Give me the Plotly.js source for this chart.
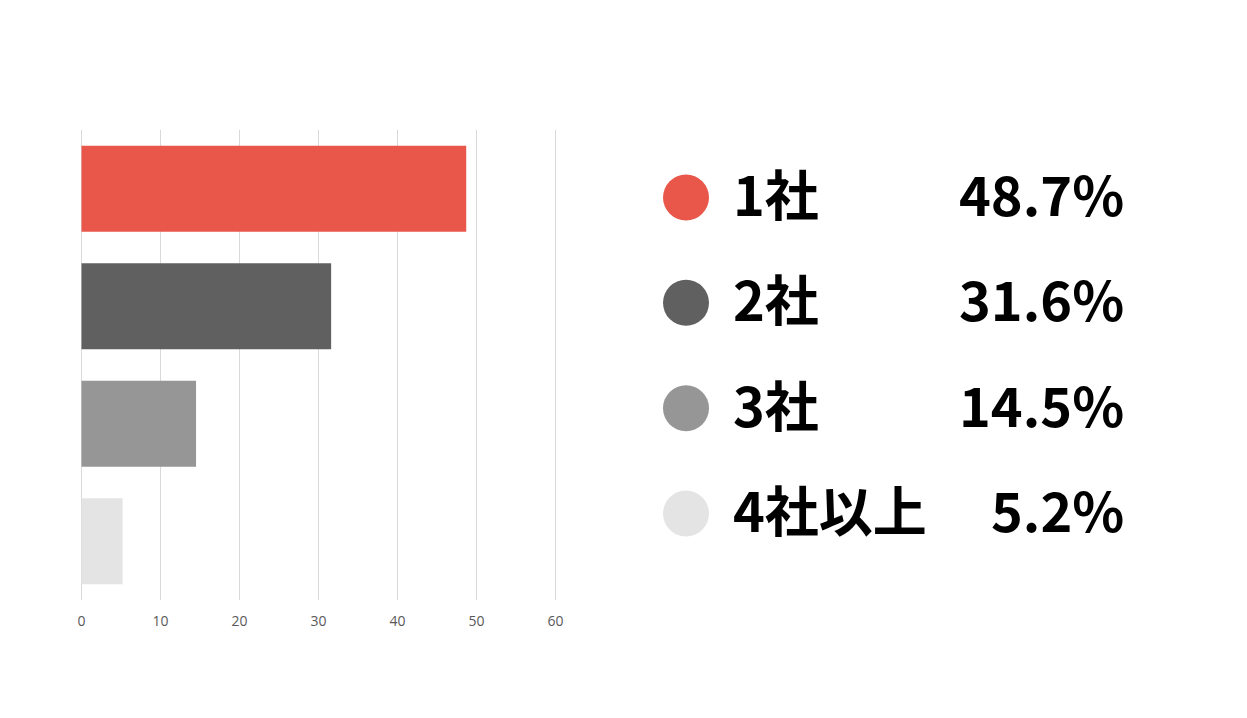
<!DOCTYPE html>
<html>
<head>
<meta charset="utf-8">
<script src="https://cdn.plot.ly/plotly-3.0.1.min.js"></script>
<style>
  html, body { margin: 0; padding: 0; background: #fff; }
  #chart { width: 1247px; height: 718px; }
</style>
</head>
<body>
<div id="chart"></div>
<script>
// 取引社数の分布 — bar chart on the left, big legend list on the right.

const categories = ["1社", "2社", "3社", "4社以上"];
const shares = [48.7, 31.6, 14.5, 5.2];
const shareLabels = ["48.7%", "31.6%", "14.5%", "5.2%"];
const xTicks = [0, 10, 20, 30, 40, 50, 60];

const barColors = ["#e8574a", "#606060", "#969696", "#e4e4e4"];

const W = 1247, H = 718;
const px = (a, b) => [a / W, b / W];
const py = (top, bottom) => [(H - bottom) / H, (H - top) / H];

// pad the x range a little so the 0 and 60 gridlines are not dropped at the edges
const PAD = 0.4, UNIT = (555.5 - 81.5) / 60;

const LEGEND_FONT = { family: "Noto Sans CJK JP", size: 54, color: "#000" };
const TEXT_SHIFT = 5;

const bars = {
    type: "bar",
    orientation: "h",
    x: shares,
    y: categories,
    width: 0.73,
    marker: { color: barColors, line: { width: 0 } },
    hoverinfo: "x+y",
    xaxis: "x",
    yaxis: "y",
};

// legend dots
const dots = {
    type: "scatter",
    mode: "markers",
    x: categories.map(() => 686),
    y: categories,
    marker: { size: 46, color: barColors, line: { width: 0 } },
    cliponaxis: false,
    xaxis: "x2",
    yaxis: "y2",
    hoverinfo: "skip",
};

const nameNotes = categories.map(c => ({
    xref: "x2", yref: "y2", x: 731, y: c,
    text: "<b>" + c + "</b>", showarrow: false,
    xanchor: "left", yanchor: "middle", yshift: TEXT_SHIFT,
    font: LEGEND_FONT,
}));

const pctNotes = categories.map((c, i) => ({
    xref: "x2", yref: "y2", x: 1126, y: c,
    text: "<b>" + shareLabels[i] + "</b>", showarrow: false,
    xanchor: "right", yanchor: "middle", yshift: TEXT_SHIFT,
    font: LEGEND_FONT,
}));

const layout = {
    width: W,
    height: H,
    margin: { t: 0, b: 0, l: 0, r: 0 },
    paper_bgcolor: "#fff",
    plot_bgcolor: "rgba(0,0,0,0)",
    showlegend: false,
    xaxis: {
        domain: px(81.5 - PAD * UNIT, 555.5 + PAD * UNIT),
        range: [-PAD, 60 + PAD],
        tickvals: xTicks,
        ticktext: xTicks.map(String),
        showgrid: true,
        gridcolor: "#d9d9d9",
        gridwidth: 1,
        zeroline: false,
        showline: false,
        ticks: "",
        ticklabelstandoff: 11,
        tickfont: { family: "Open Sans, Noto Sans", size: 14, color: "#595959" },
        fixedrange: true,
    },
    yaxis: {
        domain: py(130, 600),
        type: "category",
        autorange: "reversed",
        showticklabels: false,
        showgrid: false,
        zeroline: false,
        showline: false,
        ticks: "",
        fixedrange: true,
    },
    xaxis2: {
        domain: px(623.5, 1247),
        anchor: "y2",
        range: [623.5, 1247],
        visible: false,
        fixedrange: true,
    },
    yaxis2: {
        domain: py(148, 563),
        anchor: "x2",
        type: "category",
        autorange: "reversed",
        visible: false,
        fixedrange: true,
    },
    annotations: nameNotes.concat(pctNotes),
};

Plotly.newPlot("chart", [bars, dots], layout, { displayModeBar: false, staticPlot: true });
</script>
</body>
</html>
